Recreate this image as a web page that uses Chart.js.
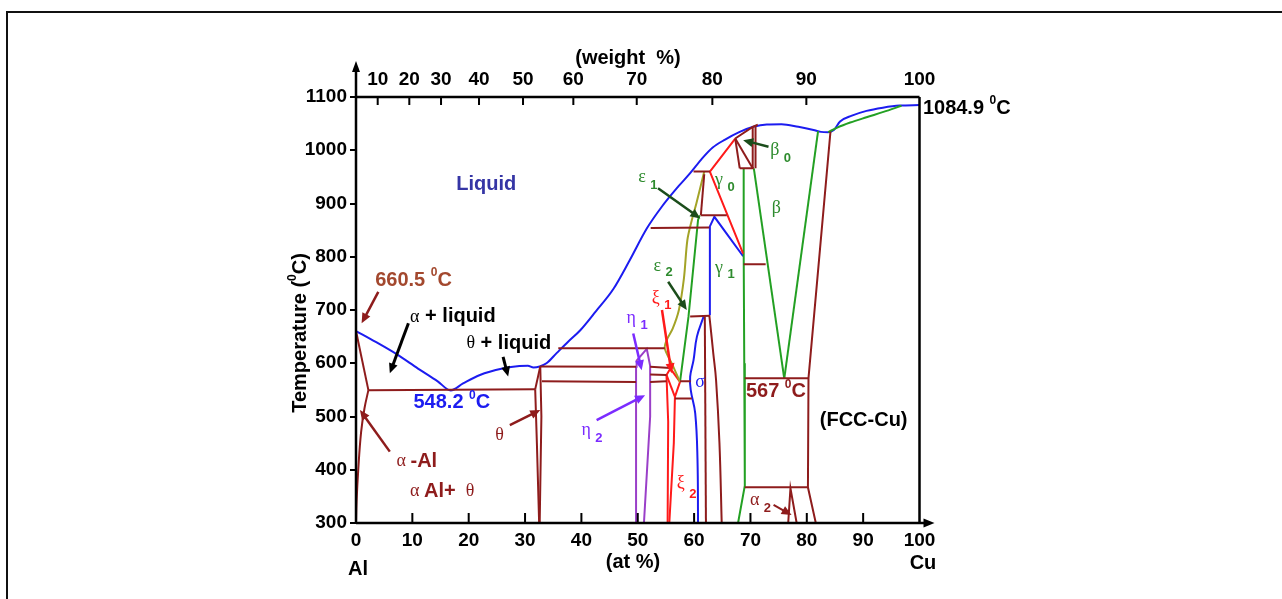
<!DOCTYPE html>
<html><head><meta charset="utf-8">
<script src="https://cdn.jsdelivr.net/npm/chart.js@4.4.0/dist/chart.umd.min.js"></script>
<style>
html,body{margin:0;padding:0;background:#fff;overflow:hidden;width:1282px;height:599px}
#frame{position:absolute;left:6px;top:11px;width:1400px;height:700px;border-left:2px solid #111;border-top:2px solid #111;}
canvas{position:absolute;left:0;top:0}
</style></head><body>
<div id="frame"></div>
<canvas id="c" width="1282" height="599"></canvas>
<script>
// ---------- axis ticks ----------
const X_TICKS = [0,10,20,30,40,50,60,70,80,90,100];          // at %
const Y_TICKS = [300,400,500,600,700,800,900,1000,1100];       // deg C
const WT_LABELS = [10,20,30,40,50,60,70,80,90,100];            // weight %
const WT_POS = [3.85,9.46,15.09,21.83,29.64,38.57,49.82,63.24,79.92,100]; // at% positions of wt% ticks

// ---------- phase boundaries  [at% Cu, T degC] ----------
const liquidus = [[0,660.5],[3.5,640],[7.2,617],[11,590],[14.5,566],[16.8,549],[19,562],[22,578],[26,590],[29,595],[30.5,595.5],[31.5,592],[32.6,594],[33.8,600],[35.6,619],[37.6,640],[39.8,662],[42.6,698],[45.7,740],[48.5,792],[51.6,853],[54.2,893],[57.2,932],[59.3,957],[61.3,983],[63.3,1005],[65.5,1020],[68,1034],[70.5,1044],[72.9,1048.5],[75.5,1049],[78.5,1044],[81.2,1038],[82.5,1034.5],[83.8,1034],[84.8,1038],[85.9,1054],[88,1065],[90.6,1074],[93.5,1080],[96.5,1084],[100,1084.9]];
const cuSolidus = [[83.8,1034],[85.5,1043],[87.7,1052],[90.6,1062],[93.6,1072],[96.8,1083.5]];
const gamma1Blue = [[62.8,690],[62.8,857],[63.6,875],[66,840],[68.7,801]];
const sigmaBlue = [[61.7,688],[60.5,650],[59.9,606],[59.3,575],[59.4,550],[60.2,506],[60.6,420],[60.7,300]];
const betaRightGreen = [[82.0,1036],[76.0,571]];
const betaLeftGreen = [[70.6,966],[76.0,571]];
const betaVertGreen = [[68.8,966],[68.8,806],[68.9,600],[69.0,370],[67.8,300]];
const epsGreen = [[61.0,878],[60.7,869],[59.0,687],[57.5,565]];
const gamma0Red = [[67.3,1022],[62.8,960],[68.7,806]];
const xiLeftRed = [[55.8,590],[55.1,578],[55.4,490],[55.3,300]];
const xiRightRed = [[57.5,565],[56.6,537],[56.4,450],[55.6,300]];
const xiDiagRed = [[55.1,578],[56.6,537]];
const xiTopRed = [[55.8,590],[57.5,565]];
const epsOlive = [[61.8,960],[60.4,900],[59.6,869],[58.8,831],[58.2,760],[57.3,700],[56.2,665],[55.2,645],[54.8,628],[56.2,596],[57.5,565]];
const etaLeft = [[49.7,593.5],[49.7,300]];
const etaRight = [[49.7,593.5],[49.8,605],[51.6,627],[52.2,595],[52.2,500],[51.1,300]];
const alSolidus = [[0,660.5],[2.2,549.5]];
const alSolvus = [[2.2,549.5],[1.5,515],[0.9,470],[0.4,400],[0.1,340],[0,300]];
const eutectic548 = [[2.2,549.5],[31.8,551]];
const thetaLeft = [[31.8,551],[32.7,594]];
const thetaLeft2 = [[31.8,551],[32.1,450],[32.5,300]];
const thetaRight = [[32.7,594],[32.9,500],[32.6,300]];
const h628 = [[35.9,628],[54.8,628]];
const h594a = [[32.7,594],[49.7,593.5]];
const h594b = [[52.2,593.5],[55.8,591]];
const h579 = [[52.2,579],[55.1,578]];
const h565a = [[33.0,566],[49.7,565]];
const h565b = [[52.2,565],[55.1,566]];
const h566s = [[57.5,566],[59.4,566]];
const h534 = [[56.6,534],[59.6,534]];
const brown62 = [[61.9,688],[62.1,300]];
const brown64 = [[62.7,690],[63.1,650],[63.4,619],[63.9,568],[64.5,450],[64.9,300]];
const h688 = [[59.3,688],[62.8,689]];
const h854 = [[52.3,854],[62.7,855]];
const h878 = [[61.2,878],[65.8,878]];
const h960 = [[59.9,960],[62.8,960]];
const brown615 = [[61.8,955],[61.2,878]];
const h786 = [[68.8,786],[72.7,786]];
const beta0a = [[67.3,1022],[68.1,966]];
const beta0b = [[67.3,1022],[70.4,966]];
const beta0c = [[68.1,966],[70.6,966]];
const beta0d = [[70.4,1044],[70.4,966]];
const beta0e = [[67.3,1022],[70.4,1044],[71.3,1048]];
const beta0f = [[70.9,1046],[70.9,966]];
const cuBrown = [[84.2,1035],[80.3,572],[80.2,367],[81.6,300]];
const h572 = [[69.0,572],[80.3,572]];
const h367 = [[69.0,367],[80.2,367]];
const alpha2 = [[76.7,300],[77.1,365],[78.2,300]];

const BLUE='#1c1cf0', GREEN='#23a023', RED='#ff1a1a', BROWN='#8e1c1c', OLIVE='#a3a327',
      PURPLE='#9a3fc8', DKGREEN='#1b4d1b', VIOLET='#7b2cff', GLABEL='#2e8b2e';

// [points, colour, smoothing]
const lines = [
  [alSolidus,BROWN,0],[alSolvus,BROWN,0.4],[eutectic548,BROWN,0],[thetaLeft,BROWN,0],[thetaLeft2,BROWN,0],[thetaRight,BROWN,0],
  [h628,BROWN,0],[h594a,BROWN,0],[h594b,BROWN,0],[h579,BROWN,0],[h565a,BROWN,0],[h565b,BROWN,0],[h566s,BROWN,0],[h534,BROWN,0],
  [brown62,BROWN,0],[brown64,BROWN,0.4],[h688,BROWN,0],[h854,BROWN,0],[h878,BROWN,0],[h960,BROWN,0],[brown615,BROWN,0],[h786,BROWN,0],
  [beta0a,BROWN,0],[beta0b,BROWN,0],[beta0c,BROWN,0],[beta0d,BROWN,0],[beta0e,BROWN,0],[beta0f,BROWN,0],
  [cuBrown,BROWN,0],[h572,BROWN,0],[h367,BROWN,0],[alpha2,BROWN,0],
  [etaLeft,PURPLE,0],[etaRight,PURPLE,0],
  [epsOlive,OLIVE,0.3],
  [xiLeftRed,RED,0],[xiRightRed,RED,0],[xiDiagRed,RED,0],[xiTopRed,RED,0],[gamma0Red,RED,0],
  [betaRightGreen,GREEN,0],[betaLeftGreen,GREEN,0],[betaVertGreen,GREEN,0],[epsGreen,GREEN,0],[cuSolidus,GREEN,'m'],
  [gamma1Blue,BLUE,0],[sigmaBlue,BLUE,0.4],[liquidus,BLUE,'m']
];

// ---------- annotations (data coords) ----------
const arrows = [
  [[3.96,734],[1.0,675],BROWN,2.5],[[9.3,675],[6.0,581],'#000',3],[[26.1,612],[27.0,575],'#000',3],
  [[6.0,434],[0.7,512],BROWN,2.5],[[27.3,484],[32.7,512],BROWN,2.5],[[49.2,656],[50.7,587],VIOLET,2.5],
  [[42.7,493],[51.3,540],VIOLET,2.5],[[54.3,700],[56.0,581],RED,2.5],[[55.4,753],[58.7,700],DKGREEN,2.5],
  [[53.6,928.5],[61.1,872],DKGREEN,2.5],[[73.2,1006.7],[68.7,1019],DKGREEN,2.5],[[74.1,334],[77.3,315],BROWN,2]
];
const SB='bold 20px "Liberation Sans", Arial, sans-serif';
const SR='18px "Liberation Serif", "Times New Roman", serif';
const SUB='bold 13px "Liberation Sans", Arial, sans-serif';
const SUP='bold 12px "Liberation Sans", Arial, sans-serif';
const labels = [
  {at:[23.1,935], align:'center', parts:[{t:'Liquid',f:SB,c:'#3535a5'}]},
  {at:[3.4,756], parts:[{t:'660.5 ',f:SB,c:'#a3482e'},{t:'0',f:SUP,c:'#a3482e',dy:-7},{t:'C',f:SB,c:'#a3482e'}]},
  {at:[9.6,687], parts:[{t:'α',f:SR,c:'#000'},{t:' + liquid',f:SB,c:'#000'}]},
  {at:[19.6,638], parts:[{t:'θ',f:SR,c:'#000'},{t:' + liquid',f:SB,c:'#000'}]},
  {at:[10.2,525.4], parts:[{t:'548.2 ',f:SB,c:BLUE},{t:'0',f:SUP,c:BLUE,dy:-7},{t:'C',f:SB,c:BLUE}]},
  {at:[7.2,415], parts:[{t:'α ',f:SR,c:BROWN},{t:'-Al',f:SB,c:BROWN}]},
  {at:[9.6,358.8], parts:[{t:'α ',f:SR,c:BROWN},{t:'Al+ ',f:SB,c:BROWN},{t:' θ',f:SR,c:BROWN}]},
  {at:[24.7,465], parts:[{t:'θ',f:SR,c:BROWN}]},
  {at:[40.0,474.6], parts:[{t:'η ',f:SR,c:VIOLET},{t:'2',f:SUB,c:VIOLET,dy:8}]},
  {at:[48.0,684], parts:[{t:'η ',f:SR,c:VIOLET},{t:'1',f:SUB,c:VIOLET,dy:7}]},
  {at:[52.5,722], parts:[{t:'ξ ',f:SR,c:RED},{t:'1',f:SUB,c:RED,dy:7}]},
  {at:[52.8,781.3], parts:[{t:'ε ',f:SR,c:GLABEL},{t:'2',f:SUB,c:GLABEL,dy:6}]},
  {at:[50.1,950], parts:[{t:'ε ',f:SR,c:GLABEL},{t:'1',f:SUB,c:GLABEL,dy:9}]},
  {at:[63.7,944], parts:[{t:'γ ',f:SR,c:GLABEL},{t:'0',f:SUB,c:GLABEL,dy:7}]},
  {at:[63.7,778], parts:[{t:'γ ',f:SR,c:GLABEL},{t:'1',f:SUB,c:GLABEL,dy:6}]},
  {at:[73.5,1000.5], parts:[{t:'β ',f:SR,c:GLABEL},{t:'0',f:SUB,c:GLABEL,dy:8}]},
  {at:[73.8,891], parts:[{t:'β',f:SR,c:GLABEL}]},
  {at:[60.2,565], parts:[{t:'σ',f:SR,c:BLUE}]},
  {at:[56.9,374.6], parts:[{t:'ξ ',f:SR,c:RED},{t:'2',f:SUB,c:RED,dy:11}]},
  {at:[69.9,343], parts:[{t:'α ',f:SR,c:BROWN},{t:'2',f:SUB,c:BROWN,dy:8}]},
  {at:[69.2,546.6], parts:[{t:'567 ',f:SB,c:BROWN},{t:'0',f:SUP,c:BROWN,dy:-7},{t:'C',f:SB,c:BROWN}]},
  {at:[82.3,493.4], parts:[{t:'(FCC-Cu)',f:SB,c:'#000'}]},
  {at:[100.6,1079], parts:[{t:'1084.9 ',f:SB,c:'#000'},{t:'0',f:SUP,c:'#000',dy:-7},{t:'C',f:SB,c:'#000'}]}
];

function drawParts(ctx, x, y, parts, align){
  let w = 0;
  for (const p of parts){ ctx.font=p.f; w += ctx.measureText(p.t).width; }
  let cx = align==='center' ? x - w/2 : x;
  ctx.textBaseline='middle'; ctx.textAlign='left';
  for (const p of parts){ ctx.font=p.f; ctx.fillStyle=p.c; ctx.fillText(p.t, cx, y+(p.dy||0)); cx += ctx.measureText(p.t).width; }
}
function arrowHead(ctx,x1,y1,x2,y2,len,hw,color){
  const a=Math.atan2(y2-y1,x2-x1);
  ctx.fillStyle=color; ctx.beginPath();
  ctx.moveTo(x2,y2);
  ctx.lineTo(x2-len*Math.cos(a)+hw*Math.sin(a), y2-len*Math.sin(a)-hw*Math.cos(a));
  ctx.lineTo(x2-len*Math.cos(a)-hw*Math.sin(a), y2-len*Math.sin(a)+hw*Math.cos(a));
  ctx.closePath(); ctx.fill();
}

const decor = {
  id:'decor',
  afterDraw(chart){
    const ctx=chart.ctx, xs=chart.scales.x, ys=chart.scales.y, a=chart.chartArea;
    const L=a.left, R=a.right, T=a.top, B=a.bottom;
    ctx.save();
    ctx.strokeStyle='#000'; ctx.lineWidth=2.5; ctx.lineCap='butt';
    ctx.beginPath();
    ctx.moveTo(L,B); ctx.lineTo(L,70);
    ctx.moveTo(L,B); ctx.lineTo(R+6,B);
    ctx.moveTo(L,T); ctx.lineTo(R,T);
    ctx.moveTo(R,T); ctx.lineTo(R,B);
    ctx.stroke();
    arrowHead(ctx,L,200,L,61,11,4,'#000');
    arrowHead(ctx,L,B,R+15,B,11,4.5,'#000');
    ctx.lineWidth=2;
    ctx.beginPath();
    for (const v of X_TICKS){ if(v===0||v===100) continue; const px=xs.getPixelForValue(v); ctx.moveTo(px,B); ctx.lineTo(px,B-10); }
    for (const v of WT_POS){ if(v===100) continue; const px=xs.getPixelForValue(v); ctx.moveTo(px,T); ctx.lineTo(px,T+8); }
    ctx.stroke();
    for (const [s,e,c,w] of arrows){
      const x1=xs.getPixelForValue(s[0]), y1=ys.getPixelForValue(s[1]);
      const x2=xs.getPixelForValue(e[0]), y2=ys.getPixelForValue(e[1]);
      const ang=Math.atan2(y2-y1,x2-x1);
      ctx.strokeStyle=c; ctx.lineWidth=w;
      ctx.beginPath(); ctx.moveTo(x1,y1); ctx.lineTo(x2-7*Math.cos(ang), y2-7*Math.sin(ang)); ctx.stroke();
      arrowHead(ctx,x1,y1,x2,y2,10,4.5,c);
    }
    for (const lb of labels){
      drawParts(ctx, xs.getPixelForValue(lb.at[0]), ys.getPixelForValue(lb.at[1]), lb.parts, lb.align);
    }
    drawParts(ctx, 628, 58, [{t:'(weight  %)',f:SB,c:'#000'}], 'center');
    drawParts(ctx, 633, 562, [{t:'(at %)',f:SB,c:'#000'}], 'center');
    drawParts(ctx, 358, 569, [{t:'Al',f:SB,c:'#000'}], 'center');
    drawParts(ctx, 923, 563, [{t:'Cu',f:SB,c:'#000'}], 'center');
    ctx.save();
    ctx.translate(300,333); ctx.rotate(-Math.PI/2);
    drawParts(ctx, 0, 0, [{t:'Temperature (',f:SB,c:'#000'},{t:'0',f:SUP,c:'#000',dy:-7},{t:'C)',f:SB,c:'#000'}], 'center');
    ctx.restore();
    ctx.restore();
  }
};

const TF = {family:'"Liberation Sans", Arial, sans-serif', size:19, weight:'bold'};
new Chart(document.getElementById('c'), {
  type:'scatter',
  data:{ datasets: lines.map(([pts,col,sm])=>({
    data: pts.map(p=>({x:p[0], y:p[1]})), showLine:true, borderColor:col, borderWidth:2,
    pointRadius:0, fill:false, tension: sm==='m' ? 0 : sm, cubicInterpolationMode: sm==='m' ? 'monotone' : 'default', clip:4
  }))},
  options:{
    responsive:false, animation:false, devicePixelRatio:1, events:[],
    layout:{padding:{left:296, right:362.5, top:47, bottom:36}},
    plugins:{legend:{display:false}, tooltip:{enabled:false}},
    scales:{
      x:{type:'linear', position:'bottom', min:0, max:100,
         afterBuildTicks(s){ s.ticks = X_TICKS.map(v=>({value:v})); },
         ticks:{font:TF, color:'#000', padding:6, maxRotation:0, autoSkip:false, callback:v=>String(v)},
         grid:{display:false, drawTicks:false}, border:{display:false},
         afterFit(s){ s.height=40; s.paddingLeft=0; s.paddingRight=0; }},
      x2:{type:'linear', position:'top', min:0, max:100,
         afterBuildTicks(s){ s.ticks = WT_POS.map(v=>({value:v})); },
         ticks:{font:TF, color:'#000', padding:6, maxRotation:0, autoSkip:false,
                callback:(v,i)=>String(WT_LABELS[i])},
         grid:{display:false, drawTicks:false}, border:{display:false},
         afterFit(s){ s.height=50; s.paddingLeft=0; s.paddingRight=0; }},
      y:{type:'linear', min:300, max:1100,
         afterBuildTicks(s){ s.ticks = Y_TICKS.map(v=>({value:v})); },
         ticks:{font:TF, color:'#000', padding:3, callback:v=>String(v)},
         grid:{display:true, drawOnChartArea:false, drawTicks:true, tickLength:6, color:'#000', lineWidth:2},
         border:{display:false},
         afterFit(s){ s.width=60; s.paddingTop=0; s.paddingBottom=0; }}
    }
  },
  plugins:[decor]
});
</script>
</body></html>
